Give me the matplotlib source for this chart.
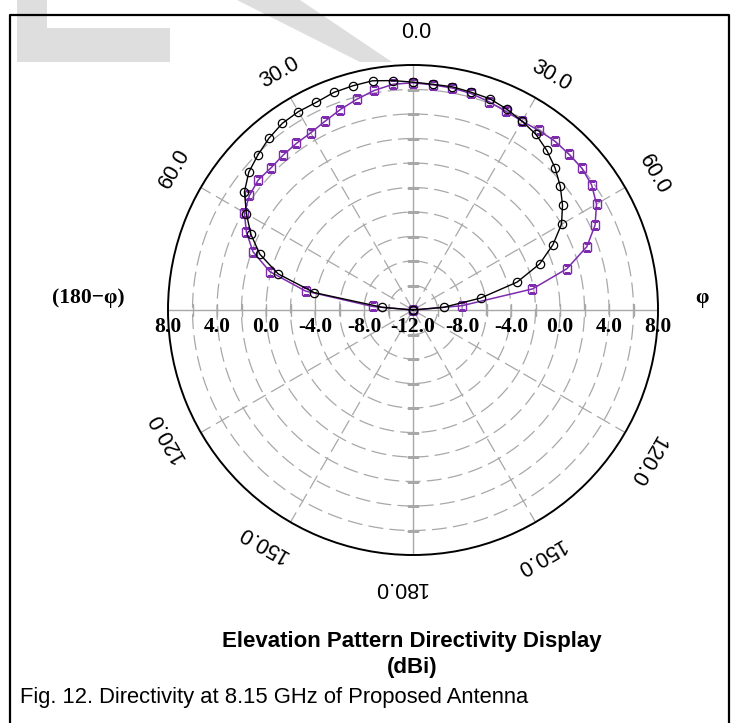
import numpy as np
import matplotlib
matplotlib.use("Agg")
import matplotlib.pyplot as plt
from matplotlib import transforms
from matplotlib.patches import Polygon
from matplotlib.lines import Line2D
import matplotlib.font_manager as fm

# ---------------- data ----------------
angles_deg = [-90, -85, -80, -75, -70, -65, -60, -55, -50, -45, -40, -35, -30,
              -25, -20, -15, -10, -5, 0, 5, 10, 15, 20, 25, 30, 35, 40, 45,
              50, 55, 60, 65, 70, 75, 80, 85, 90]
black_db = [-12.0, -9.5, -3.8, -0.6, 1.3, 2.6, 3.7, 4.8, 5.5, 5.9, 6.3, 6.6, 6.7,
            6.7, 6.9, 6.95, 7.0, 6.8, 6.6, 6.5, 6.5, 6.4, 6.35, 6.1, 5.8, 5.5,
            5.0, 4.4, 3.7, 2.9, 2.0, 0.6, -1.0, -3.2, -6.4, -9.5, -12.0]
purple_db = [-12.0, -8.7, -3.1, 0.1, 1.9, 3.0, 3.9, 4.3, 4.5, 4.4, 4.5, 4.6, 4.7,
             5.0, 5.4, 5.8, 6.2, 6.5, 6.55, 6.45, 6.4, 6.3, 6.1, 5.9, 5.8, 5.9,
             6.0, 6.0, 6.0, 5.8, 5.3, 4.4, 3.1, 1.0, -2.1, -8.0, -12.0]

r_min, r_max = -12.0, 8.0
grid_r = [-10, -8, -6, -4, -2, 0, 2, 4, 6]
radial_tick_vals = [8, 4, 0, -4, -8]
radial_tick_labels = ["8.0", "4.0", "0.0", "-4.0", "-8.0"]
center_label = "-12.0"
angle_tick_vals = [0, 30, 60, 120, 150, 180]
angle_tick_labels = ["0.0", "30.0", "60.0", "120.0", "150.0", "180.0"]

title_line1 = "Elevation Pattern Directivity Display"
title_line2 = "(dBi)"
caption = "Fig. 12. Directivity at 8.15 GHz of Proposed Antenna"

# ---------------- figure ----------------
W, H = 739, 723
fig = plt.figure(figsize=(W / 100, H / 100), dpi=100)
fig.patch.set_facecolor("white")

names = {f.name for f in fm.fontManager.ttflist}
sans = "Liberation Sans" if "Liberation Sans" in names else "DejaVu Sans"
serif = "Liberation Serif" if "Liberation Serif" in names else "DejaVu Serif"


def fx(px):
    return px / W


def fy(py):
    return 1 - py / H


# watermark shapes (light gray)
wm_color = "#dedede"
for poly in [
    [(17, 0), (47, 0), (47, 62), (17, 62)],
    [(17, 28), (170, 28), (170, 62), (17, 62)],
    [(237, 0), (300, 0), (392, 62), (360, 62)],
]:
    fig.add_artist(Polygon([(fx(x), fy(y)) for x, y in poly], closed=True,
                           transform=fig.transFigure, facecolor=wm_color,
                           edgecolor="none", zorder=0))

# border
bx0, bx1, by0 = 10, 729, 15
fig.add_artist(Line2D([fx(bx0), fx(bx0), fx(bx1), fx(bx1)],
                      [fy(H + 5), fy(by0), fy(by0), fy(H + 5)],
                      transform=fig.transFigure, color="black", lw=1.6, zorder=1))

# polar axes
cx, cy, R = 413, 310, 245
ax = fig.add_axes([fx(cx - R), fy(cy + R), 2 * R / W, 2 * R / H], projection="polar")
ax.set_theta_zero_location("N")
ax.set_theta_direction(-1)
ax.set_ylim(r_min, r_max)
ax.set_xticks([])
ax.set_yticks([])
ax.grid(False)
ax.spines["polar"].set_color("black")
ax.spines["polar"].set_linewidth(1.4)
ax.patch.set_alpha(0)

gray = "#a8a8a8"
th = np.linspace(0, 2 * np.pi, 721)
for r in grid_r:
    ax.plot(th, np.full_like(th, r), color=gray, lw=0.9, ls=(0, (12, 5)), zorder=1)
for a in range(0, 360, 30):
    if a % 90 == 0:
        ax.plot([np.deg2rad(a)] * 2, [r_min, r_max], color=gray, lw=1.0, zorder=1)
    else:
        ax.plot([np.deg2rad(a)] * 2, [r_min, r_max], color=gray, lw=0.9,
                ls=(0, (12, 5)), zorder=1)
# small crossing ticks on the main axes
tick_r = grid_r
for a in (90, 270):
    ax.plot([np.deg2rad(a)] * len(tick_r), tick_r, ls="none", marker="|",
            ms=8, mew=1.0, color=gray, zorder=1)
for a in (0, 180):
    ax.plot([np.deg2rad(a)] * len(tick_r), tick_r, ls="none", marker="_",
            ms=8, mew=1.0, color=gray, zorder=1)

# data
theta = np.deg2rad(angles_deg)
purple = "#7d2cae"
ax.plot(theta, purple_db, color=purple, lw=1.1, marker="s", ms=6,
        mfc="none", mec=purple, mew=1.0, zorder=3)
ax.plot(theta, black_db, color="black", lw=1.0, marker="o", ms=6,
        mfc="none", mec="black", mew=0.9, zorder=4)

# angle labels (tangential, shifted slightly along the reading direction)
for a, lab in zip(angle_tick_vals, angle_tick_labels):
    sides = [a] if a in (0, 180) else [a, -a]
    for s in sides:
        rot = -s
        shift = 13 if abs(s) > 90 else 3
        rpx = 272 if abs(s) == 30 else 277
        r_lab = r_min + rpx / R * (r_max - r_min)
        tr = transforms.offset_copy(ax.transData, fig=fig,
                                    x=shift * np.cos(np.deg2rad(rot)),
                                    y=shift * np.sin(np.deg2rad(rot)), units="dots")
        ax.text(np.deg2rad(s), r_lab, lab, rotation=rot, rotation_mode="anchor",
                ha="center", va="center", fontsize=15.5, family=sans,
                color="black", clip_on=False, transform=tr)

# radial labels along the horizontal axis
off = transforms.offset_copy(ax.transData, fig=fig, x=0, y=-17, units="dots")
for v, lab in zip(radial_tick_vals, radial_tick_labels):
    for s in (-90, 90):
        ax.text(np.deg2rad(s), v, lab, transform=off, ha="center", va="center",
                fontsize=15.5, family=serif, fontweight="bold", clip_on=False)
ax.text(0, r_min, center_label, transform=off, ha="center", va="center",
        fontsize=15.5, family=serif, fontweight="bold", clip_on=False)

fig.text(fx(88), fy(298), "(180\u2212\u03c6)", ha="center", va="center",
         fontsize=15.5, family=serif, fontweight="bold")
fig.text(fx(702), fy(298), "\u03c6", ha="center", va="center",
         fontsize=15.5, family=serif, fontweight="bold")

# titles and caption
fig.text(fx(412), fy(641), title_line1, ha="center", va="center",
         fontsize=16, family=sans, fontweight="bold")
fig.text(fx(412), fy(668), title_line2, ha="center", va="center",
         fontsize=16, family=sans, fontweight="bold")
fig.text(fx(20), fy(698), caption, ha="left", va="center",
         fontsize=15.8, family=sans)

fig.savefig("out.png", dpi=100, facecolor="white")
